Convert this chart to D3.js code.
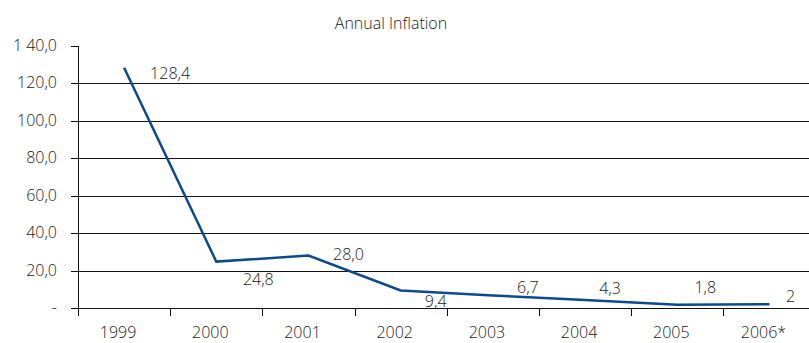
<!doctype html>
<html>
  <head>
    <style>
      body { margin: 0; background: #fff; }
      text { font-family: 'Open Sans', sans-serif; font-weight: 300; fill: #1a1a1a; }
    </style>
  </head>
  <body>
    <svg id='chart0'></svg>

    <script src='https://d3js.org/d3.v7.min.js'></script>
    <script>
      // values
      const years = ['1999', '2000', '2001', '2002', '2003', '2004', '2005', '2006*'];
      const inflation = [128.4, 24.8, 28.0, 9.4, 6.7, 4.3, 1.8, 2];
      const value_labels = ['128,4', '24,8', '28,0', '9,4', '6,7', '4,3', '1,8', '2'];
      const y_ticks = [0, 20, 40, 60, 80, 100, 120, 140];
      const y_tick_labels = ['-', '20,0', '40,0', '60,0', '80,0', '100,0', '120,0', '1 40,0'];
      // where each data label sits relative to its point
      const label_dx = [46, 42, 40, 35, 35, 25, 28, 21];
      const label_dy = [6, 18, -1, 11, -8, -12, -17, -8];

      const width = 809;
      const height = 343;
      const margin = ({top: 46, left: 78, bottom: 35});

      const svg = d3.select('svg#chart0')
                    .attr('width', width)
                    .attr('height', height);

      const x = d3.scaleBand()
                  .domain(years)
                  .range([margin.left, margin.left + 92.2 * years.length]);

      const y = d3.scaleLinear()
                  .domain([0, 140])
                  .range([height - margin.bottom, margin.top]);

      // gridlines + y ticks
      svg.append('g')
         .attr('transform', `translate(${margin.left},0)`)
         .call(d3.axisLeft(y).tickValues(y_ticks)
                 .tickFormat((d, i) => y_tick_labels[i])
                 .tickSize(7).tickPadding(14).offset(0.5))
         .call(g => g.select('.domain').remove())
         .call(g => g.selectAll('.tick').attr('transform', d => `translate(0,${Math.round(y(d)) + 0.5})`))
         .call(g => g.selectAll('.tick line').attr('stroke', '#111'))
         .call(g => g.selectAll('.tick')
                      .filter(d => d != 140)
                      .append('line')
                      .attr('x1', 0).attr('x2', width)
                      .attr('stroke', '#111'))
         .call(g => g.selectAll('.tick text')
                      .attr('font-size', 16).attr('dy', '0.3em'));

      // y axis line
      svg.append('line')
         .attr('x1', margin.left + 0.5).attr('x2', margin.left + 0.5)
         .attr('y1', Math.round(y(140))).attr('y2', Math.round(y(0)) + 8)
         .attr('stroke', '#111');

      // x ticks between categories
      svg.append('g')
         .selectAll('line')
         .data(years.slice(1))
         .join('line')
         .attr('x1', d => Math.round(x(d)) + 0.5)
         .attr('x2', d => Math.round(x(d)) + 0.5)
         .attr('y1', Math.round(y(0))).attr('y2', Math.round(y(0)) + 8)
         .attr('stroke', '#111');

      svg.append('g')
         .selectAll('text')
         .data(years)
         .join('text')
         .attr('x', d => x(d) + x.bandwidth() / 2 - 6)
         .attr('y', height - 5)
         .attr('text-anchor', 'middle')
         .attr('font-size', 16)
         .text(d => d);

      const cx = i => x(years[i]) + x.bandwidth() / 2;

      const line = d3.line()
                     .x((d, i) => cx(i))
                     .y(d => y(d));

      svg.append('path')
         .attr('d', line(inflation))
         .attr('fill', 'none')
         .attr('stroke', '#0b4a8c')
         .attr('stroke-width', 2.5);

      svg.append('g')
         .selectAll('text')
         .data(inflation)
         .join('text')
         .attr('x', (d, i) => cx(i) + label_dx[i])
         .attr('y', (d, i) => y(d) + label_dy[i])
         .attr('dy', '0.35em')
         .attr('text-anchor', 'middle')
         .attr('font-size', 16)
         .text((d, i) => value_labels[i]);

      svg.append('text')
         .attr('x', 391)
         .attr('y', 29)
         .attr('text-anchor', 'middle')
         .attr('font-size', 16)
         .text('Annual Inflation');
    </script>
  </body>
</html>
